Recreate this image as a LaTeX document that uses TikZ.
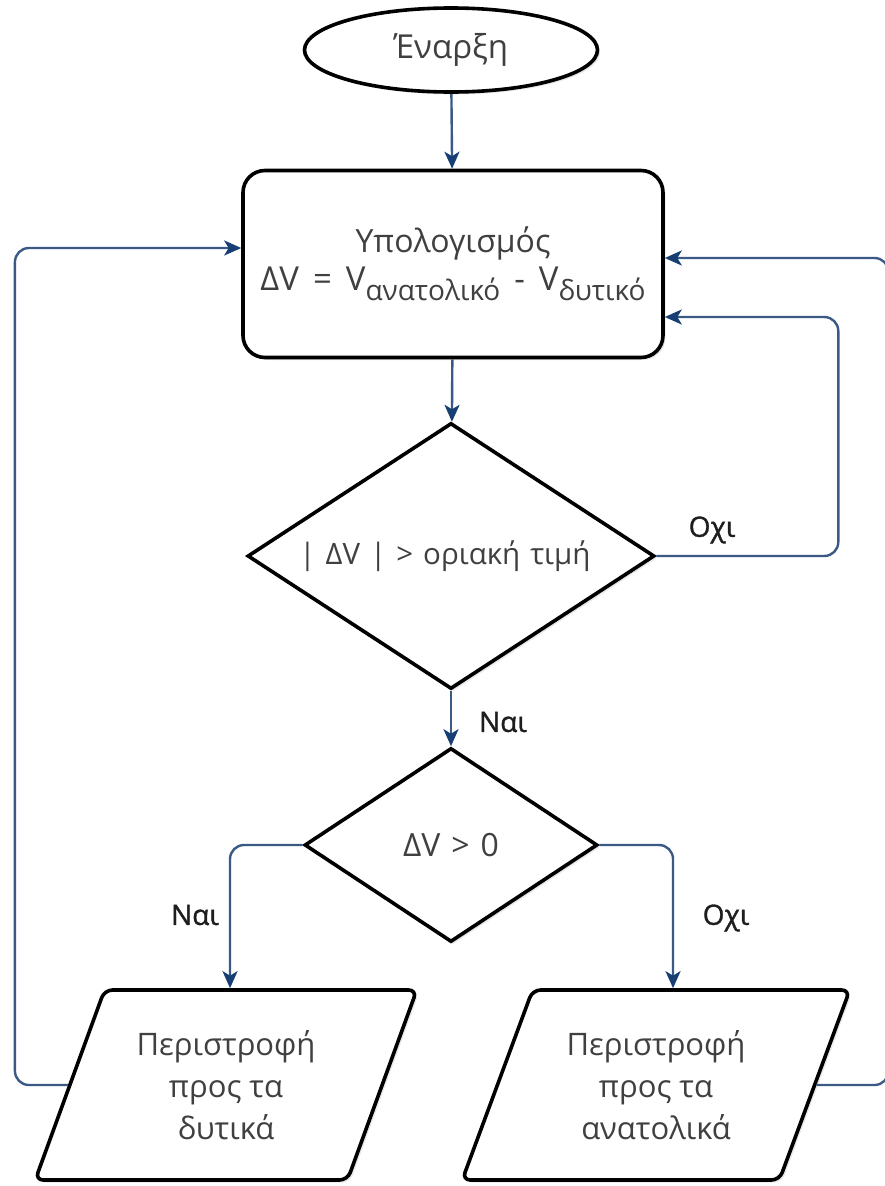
\documentclass[tikz,border=0pt]{standalone}
\usepackage{fontspec}
\setmainfont{Open Sans}
\newfontfamily\lblfont{Open Sans}[FakeBold=1.2]
\usetikzlibrary{shapes.geometric,arrows.meta,shadows}
\definecolor{linecol}{HTML}{3A5A85}
\definecolor{tipcol}{HTML}{173F73}
\definecolor{txtcol}{HTML}{404040}
\definecolor{lblcol}{HTML}{1E1E1E}
\begin{document}
\begin{tikzpicture}[x=1pt,y=-1pt,
  blk/.style={draw=black, line width=3.6pt, fill=white, text=txtcol, inner sep=0pt, align=center,
    font=\fontsize{31}{42}\selectfont,
    drop shadow={opacity=0.18, shadow xshift=2.5pt, shadow yshift=-2.5pt}},
  conn/.style={draw=linecol, line width=2.4pt, rounded corners=14pt,
    -{Stealth[length=17pt, width=15pt, inset=4.5pt, color=tipcol]}},
  lbl/.style={text=lblcol, font=\lblfont\fontsize{28}{30}\selectfont, inner sep=0pt}
]
\useasboundingbox (0,0) rectangle (885,1186);

\node[blk, ellipse, minimum width=293pt, minimum height=84pt, font=\fontsize{33}{40}\selectfont] (start) at (451,50) {\raisebox{-3pt}{Έναρξη}};
\node[blk, rectangle, rounded corners=22pt, minimum width=420pt, minimum height=187pt] (calc) at (453,264)
  {\fontsize{32}{40}\selectfont Υπολογισμός\\[-4pt]
   \makebox[0pt]{\fontsize{33}{40}\selectfont\spaceskip=14pt ΔV = V\raisebox{-0.3em}{\fontsize{28}{28}\selectfont ανατολικό} - V\raisebox{-0.3em}{\fontsize{28}{28}\selectfont δυτικό}}};
\node[blk, diamond, minimum width=407pt, minimum height=266pt, font=\fontsize{29.5}{34}\selectfont] (d1) at (451,556)
  {\makebox[0pt]{\hspace*{-12pt}\spaceskip=10pt\raisebox{-7pt}{| ΔV | > οριακή τιμή}}};
\node[blk, diamond, minimum width=293pt, minimum height=194pt, font=\fontsize{32}{34}\selectfont] (d2) at (451,845)
  {\makebox[0pt]{\spaceskip=11pt ΔV > 0}};
\node[blk, trapezium, trapezium left angle=65, trapezium right angle=115, trapezium stretches=true,
  rounded corners=8pt, minimum width=382pt, minimum height=190pt] (pw) at (226,1085)
  {Περιστροφή\\προς τα\\δυτικά};
\node[blk, trapezium, trapezium left angle=65, trapezium right angle=115, trapezium stretches=true,
  rounded corners=8pt, minimum width=388pt, minimum height=190pt] (pe) at (656,1085)
  {Περιστροφή\\προς τα\\ανατολικά};

\draw[conn] (start) -- (calc);
\draw[conn] (calc) -- (d1);
\draw[conn] (d1) -- (d2);
\draw[conn] (d1.east) -- ++(182,0) |- ([yshift=-53pt]calc.east);
\draw[conn] (d2.west) -| ([xshift=4pt]pw.north);
\draw[conn] (d2.east) -| ([xshift=17pt]pe.north);
\draw[conn] (pw.west) -- ++(-53,0) |- ([yshift=16pt]calc.west);
\draw[conn] (pe.east) -- ++(72,0) |- ([yshift=6pt]calc.east);

\node[lbl] (l1) at (712,530) {Οχι};
\node[lbl] (l2) at (503,722) {Ναι};
\node[lbl] (l3) at (195,915) {Ναι};
\node[lbl] (l4) at (726,918) {Οχι};
\end{tikzpicture}
\end{document}
